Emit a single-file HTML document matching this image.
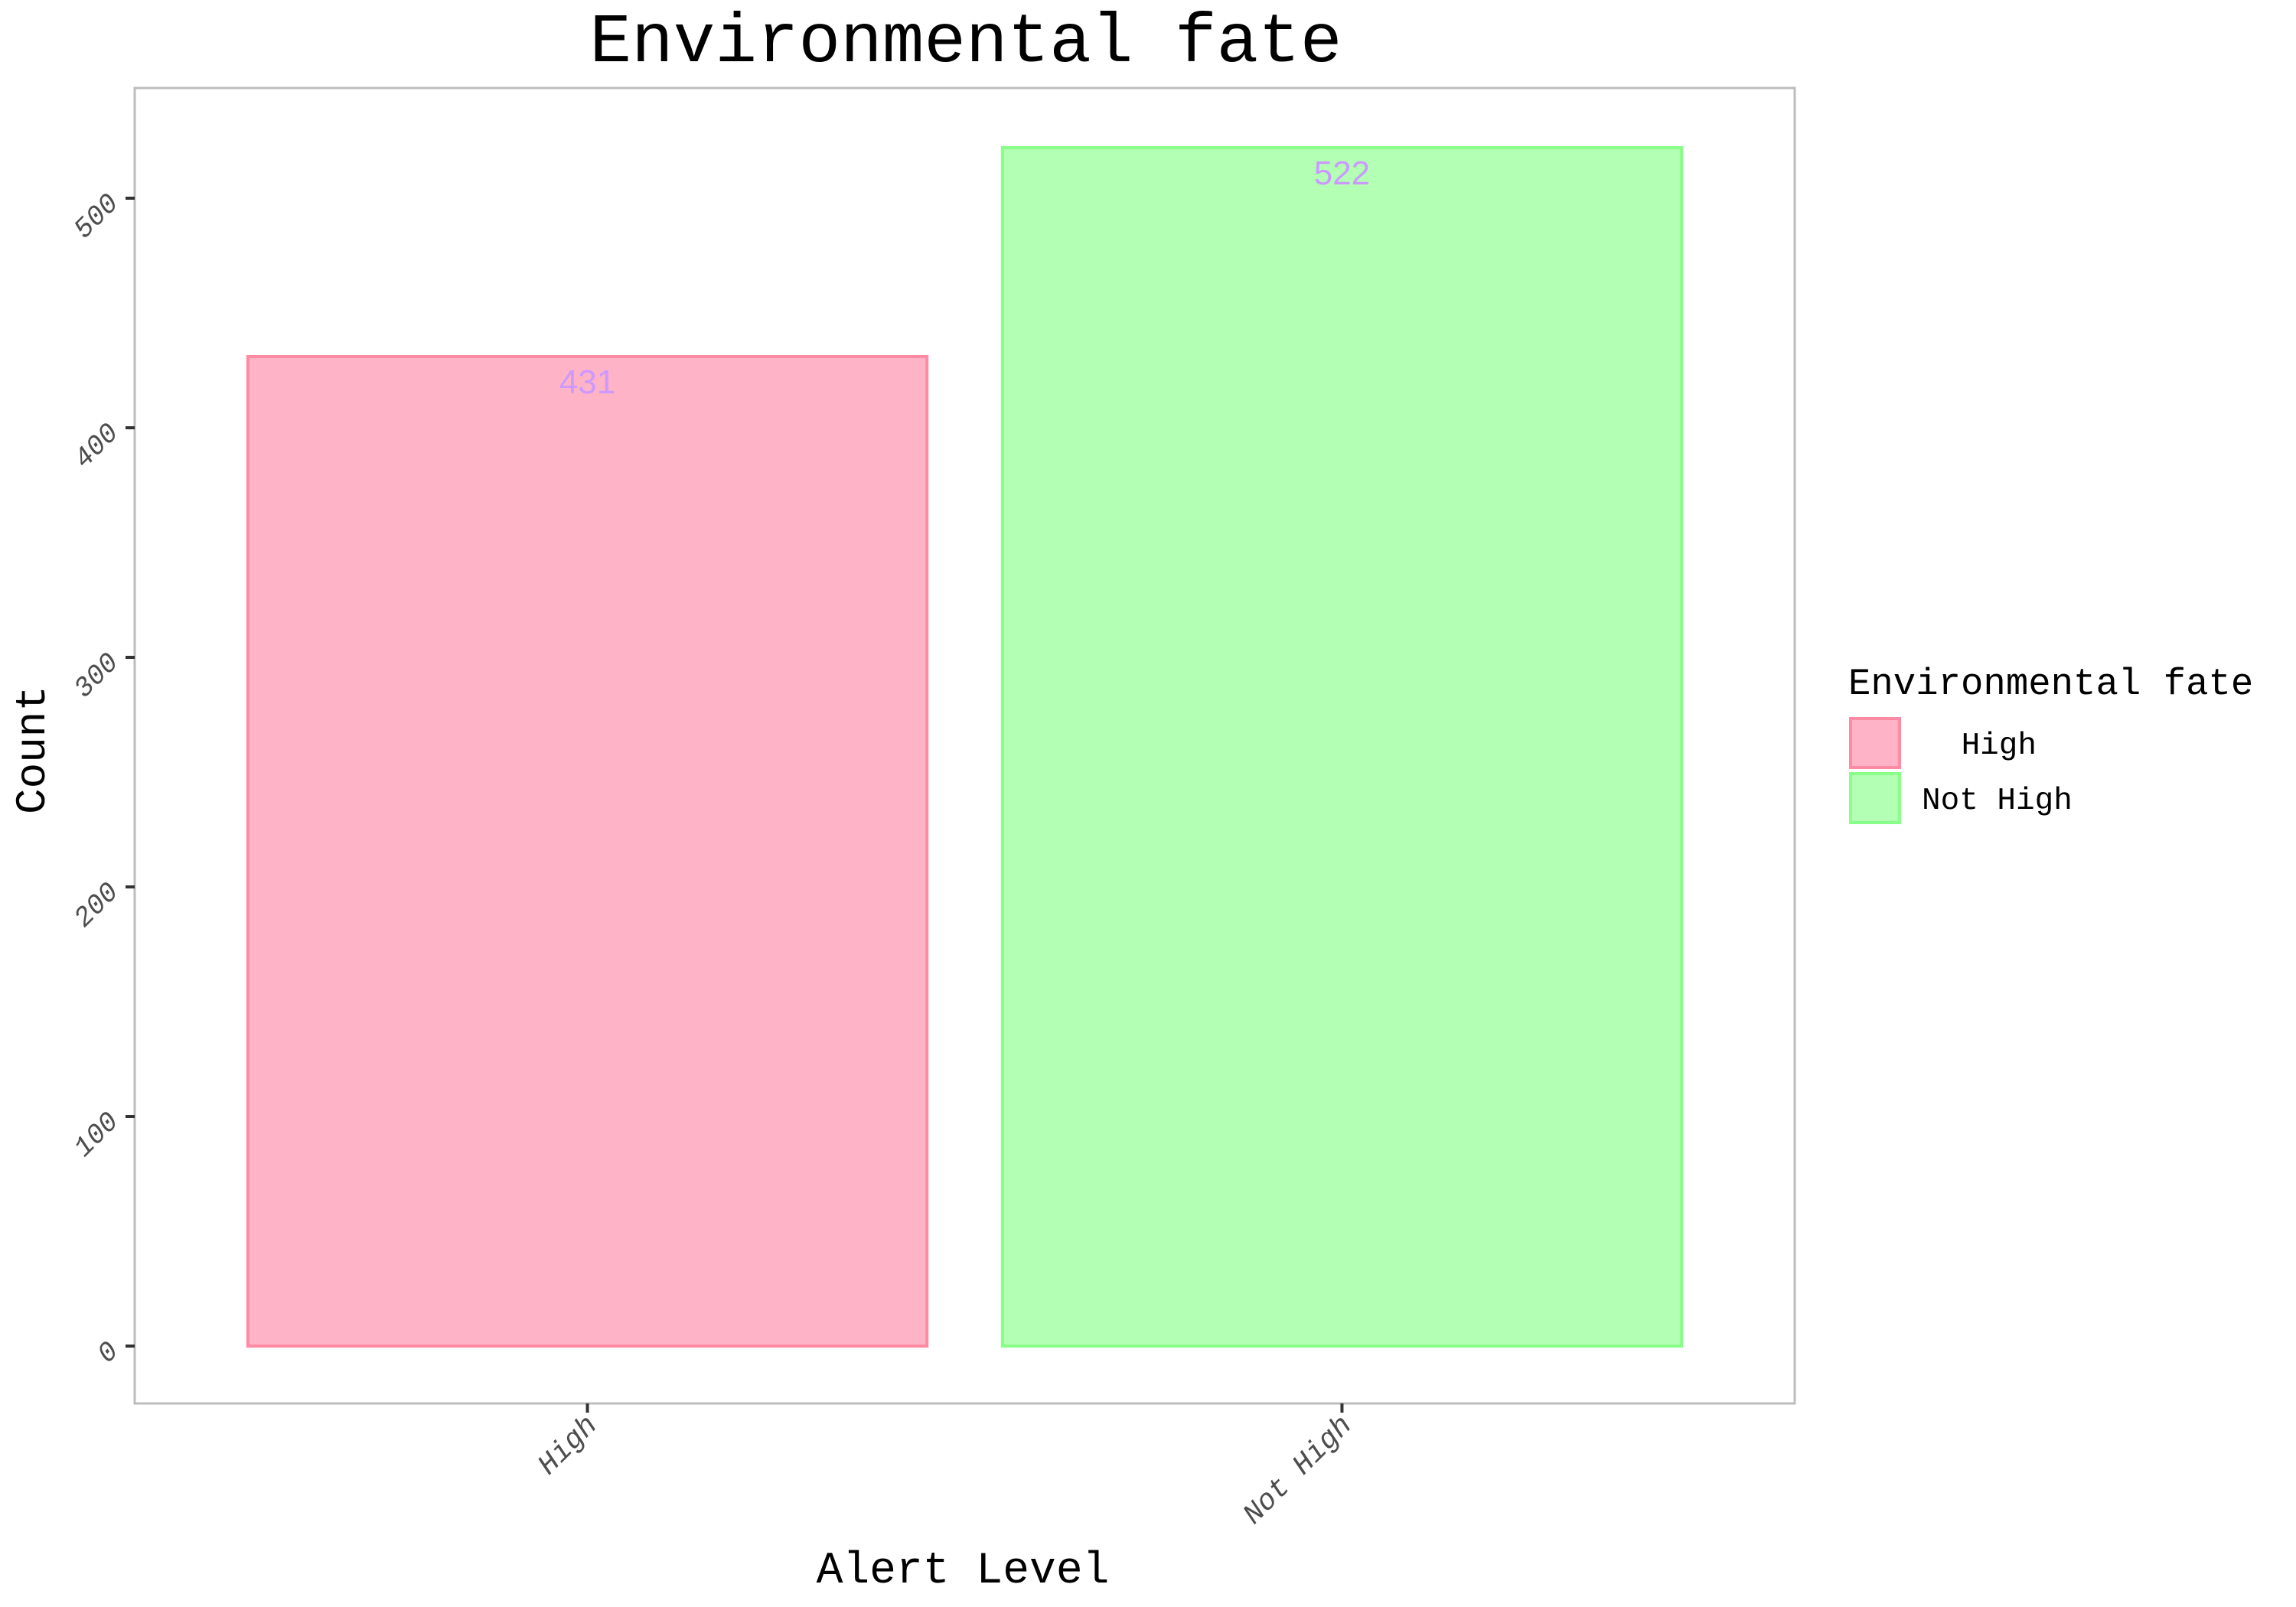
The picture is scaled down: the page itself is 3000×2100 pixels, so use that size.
<!DOCTYPE html>
<html><head><meta charset="utf-8"><style>
html,body{margin:0;padding:0;background:#fff;}
svg{display:block;}
</style></head><body>
<svg id="chart" width="3000" height="2100" viewBox="0 0 3000 2100" xmlns="http://www.w3.org/2000/svg">
<rect x="0" y="0" width="3000" height="2100" fill="#fff"/>
<text x="1262" y="80" text-anchor="middle" font-family="Liberation Mono, monospace" font-size="91" fill="#000">Environmental fate</text>
<rect x="176" y="115" width="2169" height="1719" fill="#fff" stroke="#bdbdbd" stroke-width="3"/>
<g id="yaxis"></g>
<g id="xaxis"></g>
<g id="bars"></g>
<text x="1258" y="2068" text-anchor="middle" font-family="Liberation Mono, monospace" font-size="58" fill="#000">Alert Level</text>
<text transform="translate(58,980) rotate(-90)" text-anchor="middle" font-family="Liberation Mono, monospace" font-size="56" fill="#000">Count</text>
<g>
<text x="2415" y="907" font-family="Liberation Mono, monospace" font-size="49" fill="#000">Environmental fate</text>
<g>
<rect x="2418" y="939" width="64" height="64" fill="#ffb3c6" stroke="#ff8aa3" stroke-width="4"/>
<text x="2661" y="985" text-anchor="end" font-family="Liberation Mono, monospace" font-size="41" fill="#000">High</text>
</g>
<g>
<rect x="2418" y="1011" width="64" height="64" fill="#b3ffb3" stroke="#88ff88" stroke-width="4"/>
<text x="2511" y="1057" font-family="Liberation Mono, monospace" font-size="41" fill="#000">Not High</text>
</g>
</g>
</svg>
<script>
const categories = ["High", "Not High"];
const counts = [431, 522];
const yTicks = [0, 100, 200, 300, 400, 500];
const fills = ["#ffb3c6", "#b3ffb3"];
const strokes = ["#ff8aa3", "#88ff88"];

const NS = "http://www.w3.org/2000/svg";
const panelL = 176, panelR = 2345, panelB = 1834, y0px = 1759, pxPerUnit = 3.0;
function yScale(v){ return y0px - v * pxPerUnit; }
const unit = (panelR - panelL) / (categories.length + 0.2);
function xScale(i){ return panelL + (0.6 + i) * unit; }
const barW = 0.9 * unit;

const yAxis = document.getElementById('yaxis');
yTicks.forEach(t => {
  const y = yScale(t);
  const tick = document.createElementNS(NS, 'line');
  tick.setAttribute('x1', 164); tick.setAttribute('x2', 176);
  tick.setAttribute('y1', y); tick.setAttribute('y2', y);
  tick.setAttribute('stroke', '#333'); tick.setAttribute('stroke-width', 4);
  
  
  yAxis.appendChild(tick);
  const lab = document.createElementNS(NS, 'text');
  lab.setAttribute('transform', `translate(156,${y + 8}) rotate(-45)`);
  lab.setAttribute('text-anchor', 'end');
  lab.setAttribute('font-family', 'Liberation Mono, monospace');
  lab.setAttribute('font-style', 'italic');
  lab.setAttribute('font-size', '36');
  lab.setAttribute('fill', '#4d4d4d');
  lab.textContent = t;
  
  
  yAxis.appendChild(lab);
});

const xAxis = document.getElementById('xaxis');
const barsG = document.getElementById('bars');
categories.forEach((c, i) => {
  const cx = xScale(i);
  const tick = document.createElementNS(NS, 'line');
  tick.setAttribute('x1', cx); tick.setAttribute('x2', cx);
  tick.setAttribute('y1', panelB); tick.setAttribute('y2', panelB + 12);
  tick.setAttribute('stroke', '#333'); tick.setAttribute('stroke-width', 4);
  
  
  xAxis.appendChild(tick);
  const lab = document.createElementNS(NS, 'text');
  lab.setAttribute('transform', `translate(${cx + 14},${panelB + 30}) rotate(-45)`);
  lab.setAttribute('text-anchor', 'end');
  lab.setAttribute('font-family', 'Liberation Mono, monospace');
  lab.setAttribute('font-style', 'italic');
  lab.setAttribute('font-size', '38');
  lab.setAttribute('fill', '#4d4d4d');
  lab.textContent = c;
  
  
  xAxis.appendChild(lab);

  const top = yScale(counts[i]);
  const r = document.createElementNS(NS, 'rect');
  r.setAttribute('x', cx - barW / 2);
  r.setAttribute('y', top);
  r.setAttribute('width', barW);
  r.setAttribute('height', y0px - top);
  r.setAttribute('fill', fills[i]);
  r.setAttribute('stroke', strokes[i]);
  r.setAttribute('stroke-width', 4);
  
  
  barsG.appendChild(r);

  const v = document.createElementNS(NS, 'text');
  v.setAttribute('x', cx);
  v.setAttribute('y', top + 48);
  v.setAttribute('text-anchor', 'middle');
  v.setAttribute('font-family', 'Liberation Sans Narrow, Liberation Sans, sans-serif');
  v.setAttribute('font-size', '44');
  v.setAttribute('fill', '#cc99ff');
  v.textContent = counts[i];
  
  
  barsG.appendChild(v);
});
</script>
</body></html>
